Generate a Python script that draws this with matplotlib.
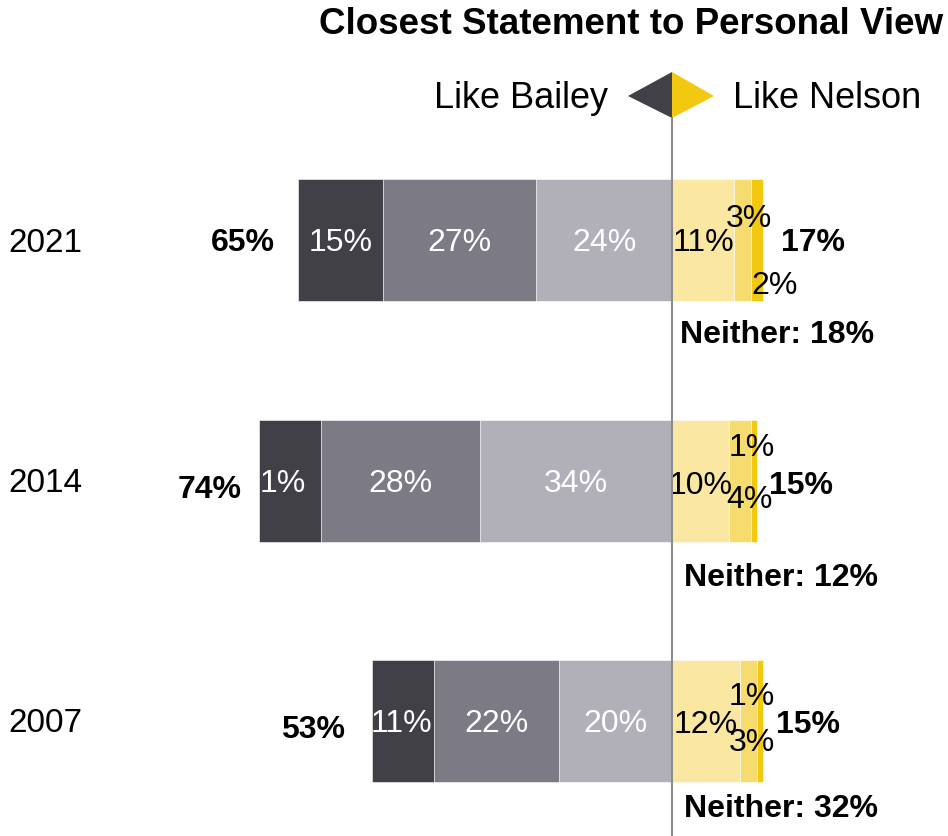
import matplotlib.pyplot as plt
from matplotlib.patches import Polygon

plt.rcParams['font.family'] = ['Liberation Sans', 'DejaVu Sans']

years = ['2021', '2014', '2007']
# left side: strong / moderate / slight "like Bailey"
bailey = [[15, 27, 24], [11, 28, 34], [11, 22, 20]]
bailey_labels = [['15%', '27%', '24%'], ['1%', '28%', '34%'], ['11%', '22%', '20%']]
bailey_total = ['65%', '74%', '53%']
# right side: slight / moderate / strong "like Nelson"
nelson = [[11, 3, 2], [10, 4, 1], [12, 3, 1]]
nelson_labels = [['11%', '3%', '2%'], ['10%', '4%', '1%'], ['12%', '3%', '1%']]
nelson_total = ['17%', '15%', '15%']
neither = ['Neither: 18%', 'Neither: 12%', 'Neither: 32%']

grey_cols = ['#414046', '#7b7a85', '#b1b0b9']
yellow_cols = ['#fae8a2', '#f6dc6e', '#f2c811']

# pixel layout helpers (figure is 948x836 px)
PX = 5.66          # px per percent
CX = 672           # centre line in px
ROW = 240.5        # px between rows
TOP = 240          # px of first row centre
TY = 3             # text baseline nudge, px


def px2x(p):
    return (p - CX) / PX


def px2y(p):
    return (p - TOP) / ROW


fig = plt.figure(figsize=(9.48, 8.36), dpi=100)
ax = fig.add_axes([0, 0, 1, 1])
ax.set_xlim(px2x(0), px2x(948))
ax.set_ylim(px2y(836), px2y(0))
ax.axis('off')

h = 122 / ROW
fs = 23

# label offsets (px) for the small yellow segments: (dx, dy)
nelson_off = [[(0, 0), (6, -24), (18, 43)],
              [(0, 2), (10, 16), (-2, -36)],
              [(0, 1), (3, 19), (-8, -27)]]
bailey_off = [[(0, 0), (0, 0), (0, 0)],
              [(-7, 0), (0, 0), (0, 0)],
              [(-2, 0), (0, 0), (0, 0)]]
ltot_off = [(24, 0), (17, 7), (27, 6)]
rtot_off = [(18, 0), (12, 2), (13, 1)]
neither_off = [(8, 31), (12, 33), (12, 24)]

for i, yr in enumerate(years):
    ty = i + TY / ROW
    ax.text(px2x(8), ty, yr, fontsize=fs + 1, ha='left', va='center')

    # left segments, from centre outwards: slight, moderate, strong
    vals = bailey[i]
    right_edge = 0
    for j in [2, 1, 0]:
        left = right_edge - vals[j]
        ax.barh(i, vals[j], left=left, height=h, color=grey_cols[j],
                edgecolor='white', linewidth=0.4)
        dx, dy = bailey_off[i][j]
        ax.text(left + vals[j] / 2 + dx / PX, ty + dy / ROW, bailey_labels[i][j],
                color='white', fontsize=fs, ha='center', va='center')
        right_edge = left
    ax.text(right_edge - ltot_off[i][0] / PX, ty + ltot_off[i][1] / ROW, bailey_total[i],
            fontsize=fs, fontweight='bold', ha='right', va='center')

    vals = nelson[i]
    start = 0
    for j in range(3):
        ax.barh(i, vals[j], left=start, height=h, color=yellow_cols[j],
                edgecolor='white', linewidth=0.4)
        dx, dy = nelson_off[i][j]
        ax.text(start + vals[j] / 2 + dx / PX, ty + dy / ROW, nelson_labels[i][j],
                color='black', fontsize=fs, ha='center', va='center')
        start += vals[j]
    ax.text(start + rtot_off[i][0] / PX, ty + rtot_off[i][1] / ROW, nelson_total[i],
            fontsize=fs, fontweight='bold', ha='left', va='center')
    ax.text(neither_off[i][0] / PX, ty + h / 2 + neither_off[i][1] / ROW, neither[i],
            fontsize=fs, fontweight='bold', ha='left', va='center')

# centre line and diamond marker
ax.plot([0, 0], [px2y(118), px2y(836)], color='#8c8c8c', lw=1.5, zorder=5)
ax.add_patch(Polygon([(px2x(628), px2y(96)), (0, px2y(72)), (0, px2y(118))],
                     closed=True, color=grey_cols[0], lw=0))
ax.add_patch(Polygon([(0, px2y(72)), (px2x(714), px2y(96)), (0, px2y(118))],
                     closed=True, color=yellow_cols[2], lw=0))

ax.text(px2x(608), px2y(96 + TY), 'Like Bailey', fontsize=26, ha='right', va='center')
ax.text(px2x(733), px2y(96 + TY), 'Like Nelson', fontsize=26, ha='left', va='center')
ax.text(px2x(943), px2y(22 + TY), 'Closest Statement to Personal View', fontsize=26.5,
        fontweight='bold', ha='right', va='center')

fig.savefig('out.png', dpi=100)
